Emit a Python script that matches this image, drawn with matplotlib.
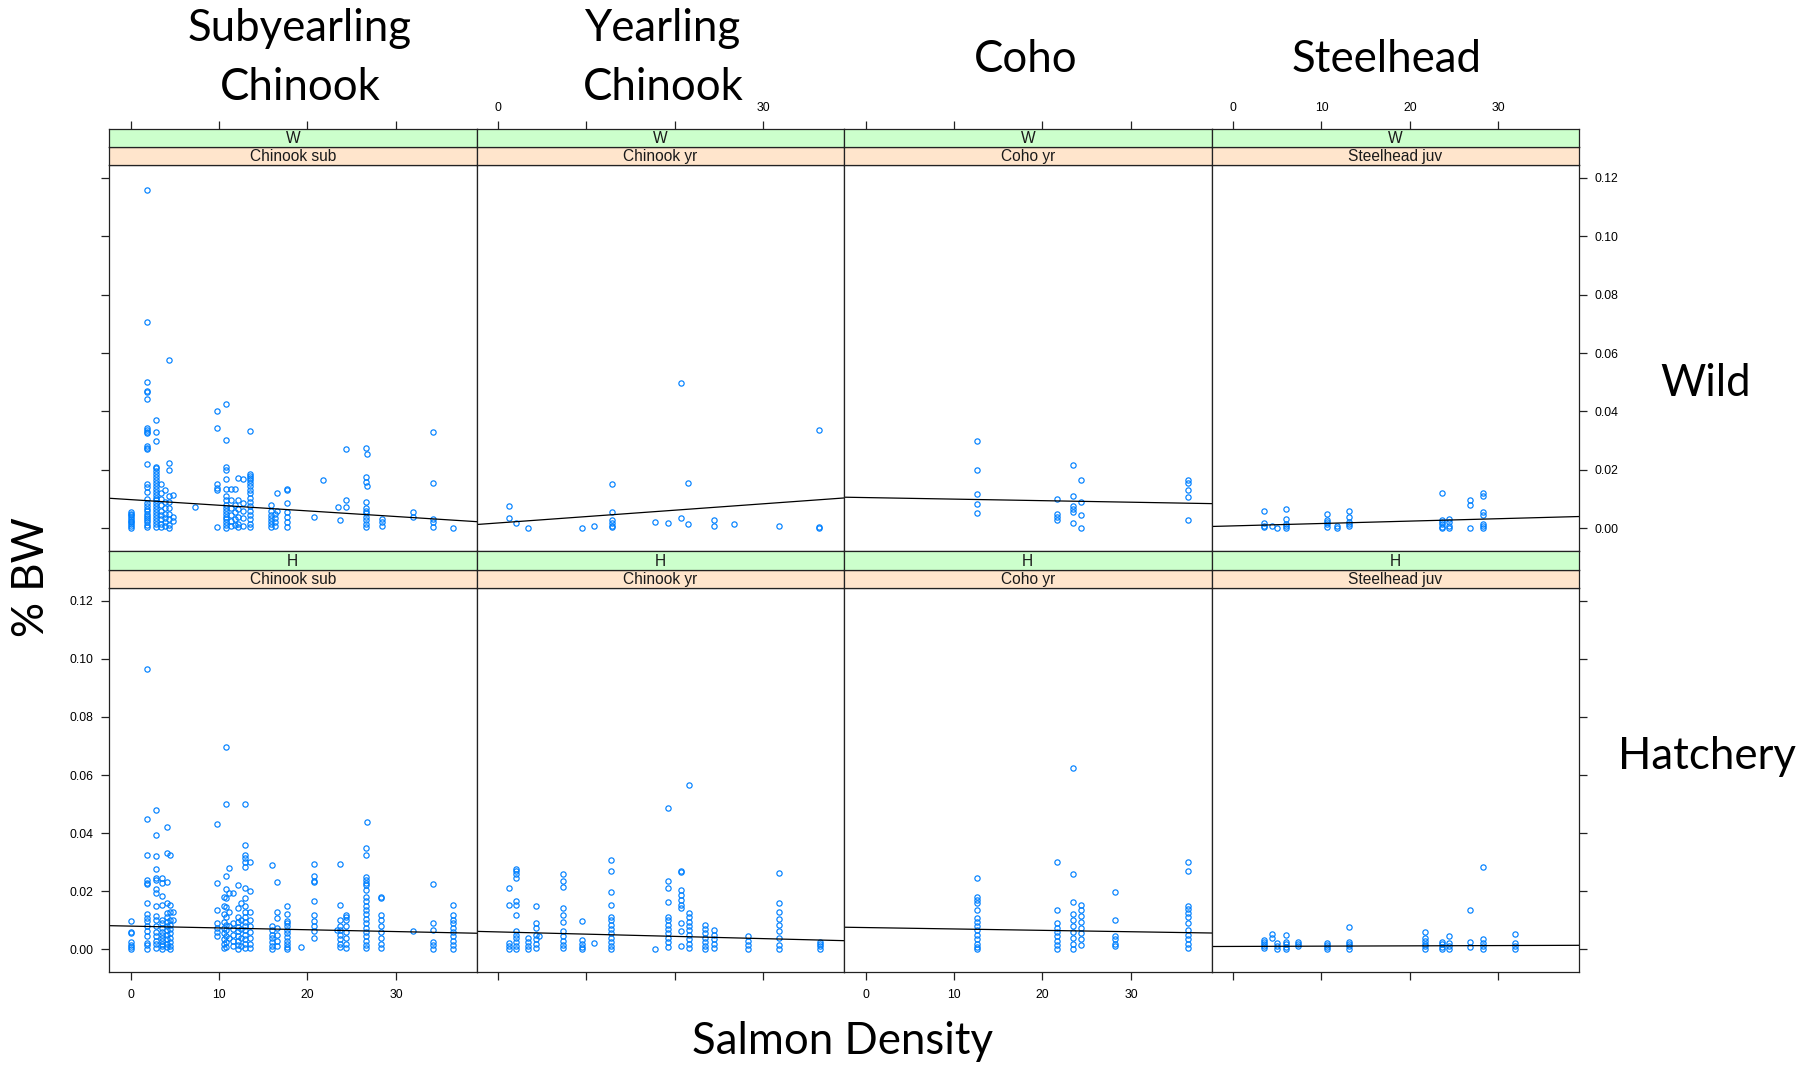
import matplotlib.pyplot as plt

W, H = 1810, 1066

# ---- data: (salmon density, [%BW values]) ----
W_SUB = [
    (0.0, [0.0002, 0.0008, 0.0014, 0.0020, 0.0026, 0.0032, 0.0038, 0.0044, 0.0050, 0.0055]),
    (1.85, [0.1160, 0.0706, 0.0500, 0.0470, 0.0465, 0.0443, 0.0343, 0.0338, 0.0330, 0.0325,
            0.0283, 0.0275, 0.0270, 0.0220, 0.0150, 0.0140, 0.0125, 0.0100, 0.0085, 0.0075,
            0.0065, 0.0058, 0.0050, 0.0043, 0.0035, 0.0028, 0.0020, 0.0012, 0.0005]),
    (2.86, [0.0370, 0.0330, 0.0300, 0.0210, 0.0205, 0.0195, 0.0185, 0.0175, 0.0165, 0.0155,
            0.0145, 0.0135, 0.0125, 0.0115, 0.0105, 0.0095, 0.0085, 0.0075, 0.0065, 0.0055,
            0.0045, 0.0035, 0.0025, 0.0015, 0.0005]),
    (3.5, [0.0150, 0.0120, 0.0100, 0.0080, 0.0060, 0.0045, 0.0030, 0.0015, 0.0003]),
    (3.9, [0.0130, 0.0090, 0.0070, 0.0050, 0.0035, 0.0020, 0.0008]),
    (4.3, [0.0575, 0.0224, 0.0200, 0.0110, 0.0090, 0.0070, 0.0050, 0.0030, 0.0012, 0.0002]),
    (4.75, [0.0115, 0.0040, 0.0025]),
    (7.3, [0.0072]),
    (9.75, [0.0400, 0.0343, 0.0150, 0.0138, 0.0130, 0.0005]),
    (10.8, [0.0426, 0.0302, 0.0210, 0.0198, 0.0167, 0.0135, 0.0110, 0.0095, 0.0080, 0.0070,
            0.0060, 0.0050, 0.0040, 0.0030, 0.0020, 0.0010, 0.0002]),
    (11.4, [0.0135, 0.0095, 0.0070, 0.0045, 0.0025, 0.0008]),
    (11.8, [0.0135, 0.0080, 0.0055, 0.0030, 0.0010]),
    (12.2, [0.0173, 0.0095, 0.0065, 0.0040, 0.0015, 0.0003]),
    (12.7, [0.0167, 0.0085, 0.0060, 0.0035, 0.0008]),
    (13.5, [0.0332, 0.0187, 0.0180, 0.0172, 0.0165, 0.0155, 0.0145, 0.0132, 0.0120, 0.0105,
            0.0090, 0.0075, 0.0060, 0.0045, 0.0030, 0.0015, 0.0003]),
    (15.9, [0.0080, 0.0060, 0.0045, 0.0035, 0.0025, 0.0015, 0.0005]),
    (16.3, [0.0050, 0.0035, 0.0020, 0.0008]),
    (16.5, [0.0120, 0.0060]),
    (17.7, [0.0135, 0.0130, 0.0085, 0.0055, 0.0038, 0.0020, 0.0004]),
    (20.7, [0.0038]),
    (21.7, [0.0164]),
    (23.4, [0.0072]),
    (23.7, [0.0029]),
    (24.4, [0.0270, 0.0098, 0.0072]),
    (26.6, [0.0275, 0.0177, 0.0160, 0.0090, 0.0068, 0.0060, 0.0052, 0.0040, 0.0028, 0.0015, 0.0005]),
    (26.75, [0.0255, 0.0144]),
    (28.4, [0.0032, 0.0020, 0.0006]),
    (31.9, [0.0055, 0.0038]),
    (34.2, [0.0330, 0.0155, 0.0032, 0.0020, 0.0005]),
    (36.5, [0.0001]),
]

W_YR = [
    (1.24, [0.0076, 0.0036]),
    (2.0, [0.0017]),
    (3.4, [0.0001]),
    (9.45, [0.0001]),
    (10.8, [0.0006]),
    (12.9, [0.0150, 0.0054, 0.0029, 0.0017, 0.0009, 0.0003]),
    (17.7, [0.0023]),
    (19.2, [0.0018]),
    (20.7, [0.0496, 0.0035]),
    (21.5, [0.0155, 0.0014]),
    (24.4, [0.0029, 0.0007]),
    (26.7, [0.0014]),
    (31.8, [0.0009]),
    (36.3, [0.0338, 0.0005, 0.0001]),
]

W_COHO = [
    (12.65, [0.0299, 0.0198, 0.0118, 0.0084, 0.0053]),
    (21.6, [0.0101, 0.0049, 0.0040, 0.0029]),
    (23.5, [0.0215, 0.0110, 0.0076, 0.0066, 0.0057, 0.0018]),
    (24.3, [0.0164, 0.0089, 0.0046, 0.0001]),
    (36.4, [0.0164, 0.0156, 0.0130, 0.0106, 0.0029]),
]

W_STEEL = [
    (3.47, [0.0058, 0.0018, 0.0009, 0.0003]),
    (4.45, [0.0009]),
    (5.0, [0.0001]),
    (6.0, [0.0066, 0.0032, 0.0015, 0.0006, 0.0000]),
    (10.65, [0.0049, 0.0029, 0.0021, 0.0013, 0.0003]),
    (11.8, [0.0009, 0.0001]),
    (13.1, [0.0058, 0.0038, 0.0021, 0.0013, 0.0006]),
    (23.6, [0.0120, 0.0029, 0.0021, 0.0013, 0.0003, 0.0000]),
    (24.4, [0.0032, 0.0021, 0.0009, 0.0000]),
    (26.8, [0.0095, 0.0080, 0.0001]),
    (28.3, [0.0120, 0.0112, 0.0055, 0.0044, 0.0015, 0.0006, 0.0000]),
]

H_SUB = [
    (0.0, [0.0096, 0.0060, 0.0056, 0.0027, 0.0016, 0.0008, 0.0000]),
    (1.84, [0.0964, 0.0448, 0.0325, 0.0240, 0.0230, 0.0225, 0.0160, 0.0120, 0.0108, 0.0096,
            0.0080, 0.0062, 0.0045, 0.0022, 0.0015, 0.0000]),
    (2.85, [0.0480, 0.0395, 0.0322, 0.0277, 0.0247, 0.0240, 0.0208, 0.0193, 0.0150, 0.0114,
            0.0102, 0.0080, 0.0060, 0.0045, 0.0030, 0.0018, 0.0005]),
    (3.6, [0.0247, 0.0228, 0.0185, 0.0153, 0.0102, 0.0090, 0.0075, 0.0060, 0.0050, 0.0040,
           0.0030, 0.0020, 0.0010, 0.0000]),
    (4.1, [0.0420, 0.0330, 0.0233, 0.0160, 0.0125, 0.0110, 0.0095, 0.0080, 0.0065, 0.0050,
           0.0035, 0.0020, 0.0008]),
    (4.5, [0.0326, 0.0153, 0.0127, 0.0102, 0.0085, 0.0070, 0.0055, 0.0040, 0.0025, 0.0012, 0.0002]),
    (4.8, [0.0127, 0.0102]),
    (9.75, [0.0430, 0.0228, 0.0136, 0.0090, 0.0075, 0.0060, 0.0045]),
    (10.6, [0.0180, 0.0150, 0.0120, 0.0095, 0.0075, 0.0055, 0.0035, 0.0018, 0.0005]),
    (10.8, [0.0697, 0.0500, 0.0254, 0.0208, 0.0176, 0.0147, 0.0110, 0.0085, 0.0065, 0.0045,
            0.0025, 0.0008]),
    (11.1, [0.0280, 0.0193, 0.0130, 0.0080, 0.0040]),
    (11.6, [0.0193, 0.0090, 0.0070, 0.0050, 0.0030, 0.0010]),
    (12.1, [0.0220, 0.0142, 0.0113, 0.0095, 0.0078, 0.0062, 0.0045, 0.0030, 0.0015, 0.0002]),
    (12.5, [0.0160, 0.0100, 0.0070, 0.0040, 0.0010]),
    (12.9, [0.0500, 0.0360, 0.0325, 0.0314, 0.0302, 0.0285, 0.0210, 0.0176, 0.0148, 0.0130,
            0.0112, 0.0095, 0.0080, 0.0065, 0.0050, 0.0035, 0.0020, 0.0005]),
    (13.5, [0.0302, 0.0202, 0.0130, 0.0102, 0.0080, 0.0060, 0.0040, 0.0020, 0.0005]),
    (16.0, [0.0290, 0.0080, 0.0065, 0.0050, 0.0038, 0.0025, 0.0012, 0.0002]),
    (16.5, [0.0232, 0.0130, 0.0108, 0.0075, 0.0050, 0.0030, 0.0010]),
    (17.7, [0.0150, 0.0120, 0.0098, 0.0090, 0.0080, 0.0068, 0.0055, 0.0042, 0.0030, 0.0018,
            0.0008, 0.0000]),
    (19.3, [0.0009]),
    (20.7, [0.0294, 0.0254, 0.0237, 0.0232, 0.0165, 0.0119, 0.0096, 0.0080, 0.0062, 0.0039]),
    (23.3, [0.0065]),
    (23.7, [0.0294, 0.0153, 0.0102, 0.0080, 0.0065, 0.0050, 0.0035, 0.0020, 0.0008]),
    (24.4, [0.0119, 0.0113, 0.0102, 0.0080, 0.0060, 0.0040, 0.0020, 0.0005]),
    (26.6, [0.0350, 0.0324, 0.0250, 0.0240, 0.0230, 0.0220, 0.0205, 0.0180, 0.0165, 0.0150,
            0.0135, 0.0120, 0.0105, 0.0090, 0.0075, 0.0060, 0.0045, 0.0030, 0.0015, 0.0003]),
    (26.75, [0.0438]),
    (28.3, [0.0180, 0.0176, 0.0119, 0.0100, 0.0080, 0.0060, 0.0040, 0.0020, 0.0005]),
    (31.9, [0.0062]),
    (34.2, [0.0224, 0.0090, 0.0067, 0.0027, 0.0016, 0.0001]),
    (36.5, [0.0153, 0.0119, 0.0102, 0.0090, 0.0073, 0.0060, 0.0045, 0.0030, 0.0015, 0.0002]),
]

H_YR = [
    (1.24, [0.0211, 0.0153, 0.0022, 0.0010, 0.0000]),
    (2.0, [0.0278, 0.0270, 0.0261, 0.0244, 0.0165, 0.0153, 0.0119, 0.0062, 0.0050, 0.0038,
           0.0025, 0.0012, 0.0000]),
    (3.4, [0.0039, 0.0025, 0.0012, 0.0001]),
    (4.25, [0.0150, 0.0090, 0.0073, 0.0050, 0.0035, 0.0020, 0.0005]),
    (4.6, [0.0045]),
    (7.3, [0.0259, 0.0234, 0.0214, 0.0142, 0.0119, 0.0093, 0.0062, 0.0045, 0.0030, 0.0015, 0.0005]),
    (9.45, [0.0097, 0.0033, 0.0020, 0.0008, 0.0000]),
    (10.8, [0.0022]),
    (12.8, [0.0307, 0.0270, 0.0197, 0.0153, 0.0113, 0.0100, 0.0085, 0.0070, 0.0055, 0.0040,
            0.0025, 0.0012, 0.0000]),
    (17.7, [0.0001]),
    (19.25, [0.0487, 0.0234, 0.0211, 0.0163, 0.0113, 0.0100, 0.0085, 0.0070, 0.0055, 0.0040,
             0.0025, 0.0008]),
    (20.7, [0.0270, 0.0266, 0.0205, 0.0188, 0.0170, 0.0153, 0.0142, 0.0090, 0.0062, 0.0013]),
    (21.55, [0.0566, 0.0125, 0.0110, 0.0095, 0.0080, 0.0065, 0.0050, 0.0035, 0.0020, 0.0005]),
    (23.4, [0.0085, 0.0070, 0.0055, 0.0040, 0.0025, 0.0010, 0.0000]),
    (24.4, [0.0068, 0.0050, 0.0035, 0.0020, 0.0005]),
    (28.2, [0.0045, 0.0030, 0.0015, 0.0001]),
    (31.75, [0.0263, 0.0160, 0.0127, 0.0105, 0.0085, 0.0062, 0.0039, 0.0016, 0.0000]),
    (36.35, [0.0027, 0.0018, 0.0010, 0.0002]),
]

H_COHO = [
    (12.65, [0.0245, 0.0179, 0.0170, 0.0160, 0.0136, 0.0108, 0.0095, 0.0080, 0.0065, 0.0050,
             0.0035, 0.0020, 0.0008, 0.0000]),
    (21.6, [0.0299, 0.0136, 0.0090, 0.0075, 0.0060, 0.0045, 0.0030, 0.0015, 0.0000]),
    (23.5, [0.0626, 0.0259, 0.0163, 0.0120, 0.0100, 0.0080, 0.0060, 0.0040, 0.0020, 0.0000]),
    (24.3, [0.0153, 0.0136, 0.0115, 0.0095, 0.0075, 0.0055, 0.0035, 0.0015]),
    (28.2, [0.0197, 0.0102, 0.0045, 0.0035, 0.0020, 0.0012]),
    (36.4, [0.0299, 0.0268, 0.0150, 0.0140, 0.0125, 0.0110, 0.0090, 0.0065, 0.0050, 0.0035,
            0.0020, 0.0005]),
]

H_STEEL = [
    (3.47, [0.0033, 0.0025, 0.0018, 0.0010, 0.0003]),
    (4.45, [0.0054, 0.0039]),
    (5.0, [0.0022, 0.0010, 0.0000]),
    (6.0, [0.0048, 0.0027, 0.0018, 0.0007, 0.0000]),
    (7.3, [0.0027, 0.0020, 0.0010]),
    (10.65, [0.0022, 0.0014, 0.0007, 0.0000]),
    (13.1, [0.0076, 0.0027, 0.0018, 0.0010, 0.0000]),
    (21.7, [0.0058, 0.0040, 0.0030, 0.0020, 0.0010, 0.0000]),
    (23.6, [0.0027, 0.0018, 0.0008, 0.0000]),
    (24.4, [0.0045, 0.0022, 0.0012, 0.0000]),
    (26.8, [0.0136, 0.0027, 0.0008]),
    (28.3, [0.0285, 0.0035, 0.0022, 0.0012, 0.0000]),
    (31.9, [0.0053, 0.0022, 0.0012, 0.0000]),
]

# fitted lines (intercept, slope) per panel
W_FITS = [(0.0098, -0.000193), (0.0018, 0.000219), (0.0105, -0.000053), (0.0008, 0.000082)]
H_FITS = [(0.0080, -0.0000627), (0.0060, -0.000077), (0.0075, -0.000048), (0.0010, 0.00001)]

SPECIES = ["Chinook sub", "Chinook yr", "Coho yr", "Steelhead juv"]
ORIGINS = ["W", "H"]
COL_TITLES = [["Subyearling", "Chinook"], ["Yearling", "Chinook"], ["Coho"], ["Steelhead"]]
ROW_TITLES = ["Wild", "Hatchery"]
X_TICKS = [0, 10, 20, 30]
Y_TICKS = [0.00, 0.02, 0.04, 0.06, 0.08, 0.10, 0.12]
# top labels of column 2 are hidden behind the title in the original
TOP_LABELS_COL2 = ["0", "", "", "30"]

XLIM = (-2.43, 39.1)
YLIM = (-0.0078, 0.1244)

PANELS = [[W_SUB, W_YR, W_COHO, W_STEEL], [H_SUB, H_YR, H_COHO, H_STEEL]]
FITS = [W_FITS, H_FITS]

# layout in pixels
COL_EDGES = [109, 476.5, 844, 1211.5, 1579]
ROWS = [dict(green=129, orange=147, top=165, bottom=551),
        dict(green=551, orange=570, top=588, bottom=972)]

STRIP_GREEN = "#ccffcc"
STRIP_ORANGE = "#ffe5cc"
PT_COLOR = "#0080ff"
TICK_FAMILY = "Liberation Sans"
TICK_SIZE = 8.8
BIG_FONT = dict(family="Lato", size=31.5)

fig = plt.figure(figsize=(W / 100, H / 100), dpi=100)


def px_axes(x0, y0, x1, y1, **kw):
    return fig.add_axes([x0 / W, 1 - y1 / H, (x1 - x0) / W, (y1 - y0) / H], **kw)


def style_frame(ax):
    for s in ax.spines.values():
        s.set_color("#222222")
        s.set_linewidth(0.9)
    ax.tick_params(length=6, width=0.9, color="#222222", labelcolor="black",
                   labelsize=TICK_SIZE)
    for lab in ax.get_xticklabels() + ax.get_yticklabels():
        lab.set_family(TICK_FAMILY)


for r, row in enumerate(ROWS):
    for c in range(4):
        xl, xr = COL_EDGES[c], COL_EDGES[c + 1]
        ax = px_axes(xl, row["top"], xr, row["bottom"])
        for x, ys in PANELS[r][c]:
            ax.plot([x] * len(ys), ys, ls="none", marker="o", ms=3.8, mfc="none",
                    mec=PT_COLOR, mew=0.85)
        b, m = FITS[r][c]
        ax.axline((0, b), slope=m, color="black", lw=0.9)
        ax.set_xlim(*XLIM)
        ax.set_ylim(*YLIM)
        ax.set_xticks(X_TICKS)
        ax.set_yticks(Y_TICKS)
        ax.set_yticklabels([f"{v:.2f}" for v in Y_TICKS])
        ax.tick_params(axis="x", top=False, bottom=(r == 1), labelbottom=(r == 1 and c in (0, 2)),
                       pad=6)
        ax.tick_params(axis="y", left=(c == 0), labelleft=(r == 1 and c == 0),
                       right=(c == 3), labelright=(r == 0 and c == 3), pad=5)
        style_frame(ax)

        # strips
        so = px_axes(xl, row["orange"], xr, row["top"], facecolor=STRIP_ORANGE)
        so.set_xticks([])
        so.set_yticks([])
        so.text(0.5, 0.45, SPECIES[c], ha="center", va="center", transform=so.transAxes,
                family="Liberation Sans", fontsize=11.2, color="#1a1a1a")
        style_frame(so)

        sg = px_axes(xl, row["green"], xr, row["orange"], facecolor=STRIP_GREEN)
        sg.set_yticks([])
        sg.text(0.5, 0.45, ORIGINS[r], ha="center", va="center", transform=sg.transAxes,
                family="Liberation Sans", fontsize=11.2, color="#1a1a1a")
        if r == 0:
            sg.set_xlim(*XLIM)
            sg.set_xticks(X_TICKS)
            if c == 1:
                sg.set_xticklabels(TOP_LABELS_COL2)
            sg.tick_params(axis="x", bottom=False, labelbottom=False, top=True,
                           labeltop=(c in (1, 3)), pad=5)
        else:
            sg.set_xticks([])
        style_frame(sg)

# column titles
title_x = [300, 663, 1026, 1387]
for c, lines in enumerate(COL_TITLES):
    if len(lines) == 2:
        base = [41, 100]
    else:
        base = [72]
    for line, yb in zip(lines, base):
        fig.text(title_x[c] / W, 1 - yb / H, line, ha="center", va="baseline", **BIG_FONT)

# row titles
fig.text(1706 / W, 1 - 396 / H, ROW_TITLES[0], ha="center", va="baseline", **BIG_FONT)
fig.text(1707 / W, 1 - 769 / H, ROW_TITLES[1], ha="center", va="baseline", **BIG_FONT)

# axis titles
fig.text(31 / W, 1 - 577 / H, "% BW", ha="center", va="center", rotation=90, **BIG_FONT)
fig.text(842 / W, 1 - 1054 / H, "Salmon Density", ha="center", va="baseline", **BIG_FONT)

fig.savefig("out.png", dpi=100)
